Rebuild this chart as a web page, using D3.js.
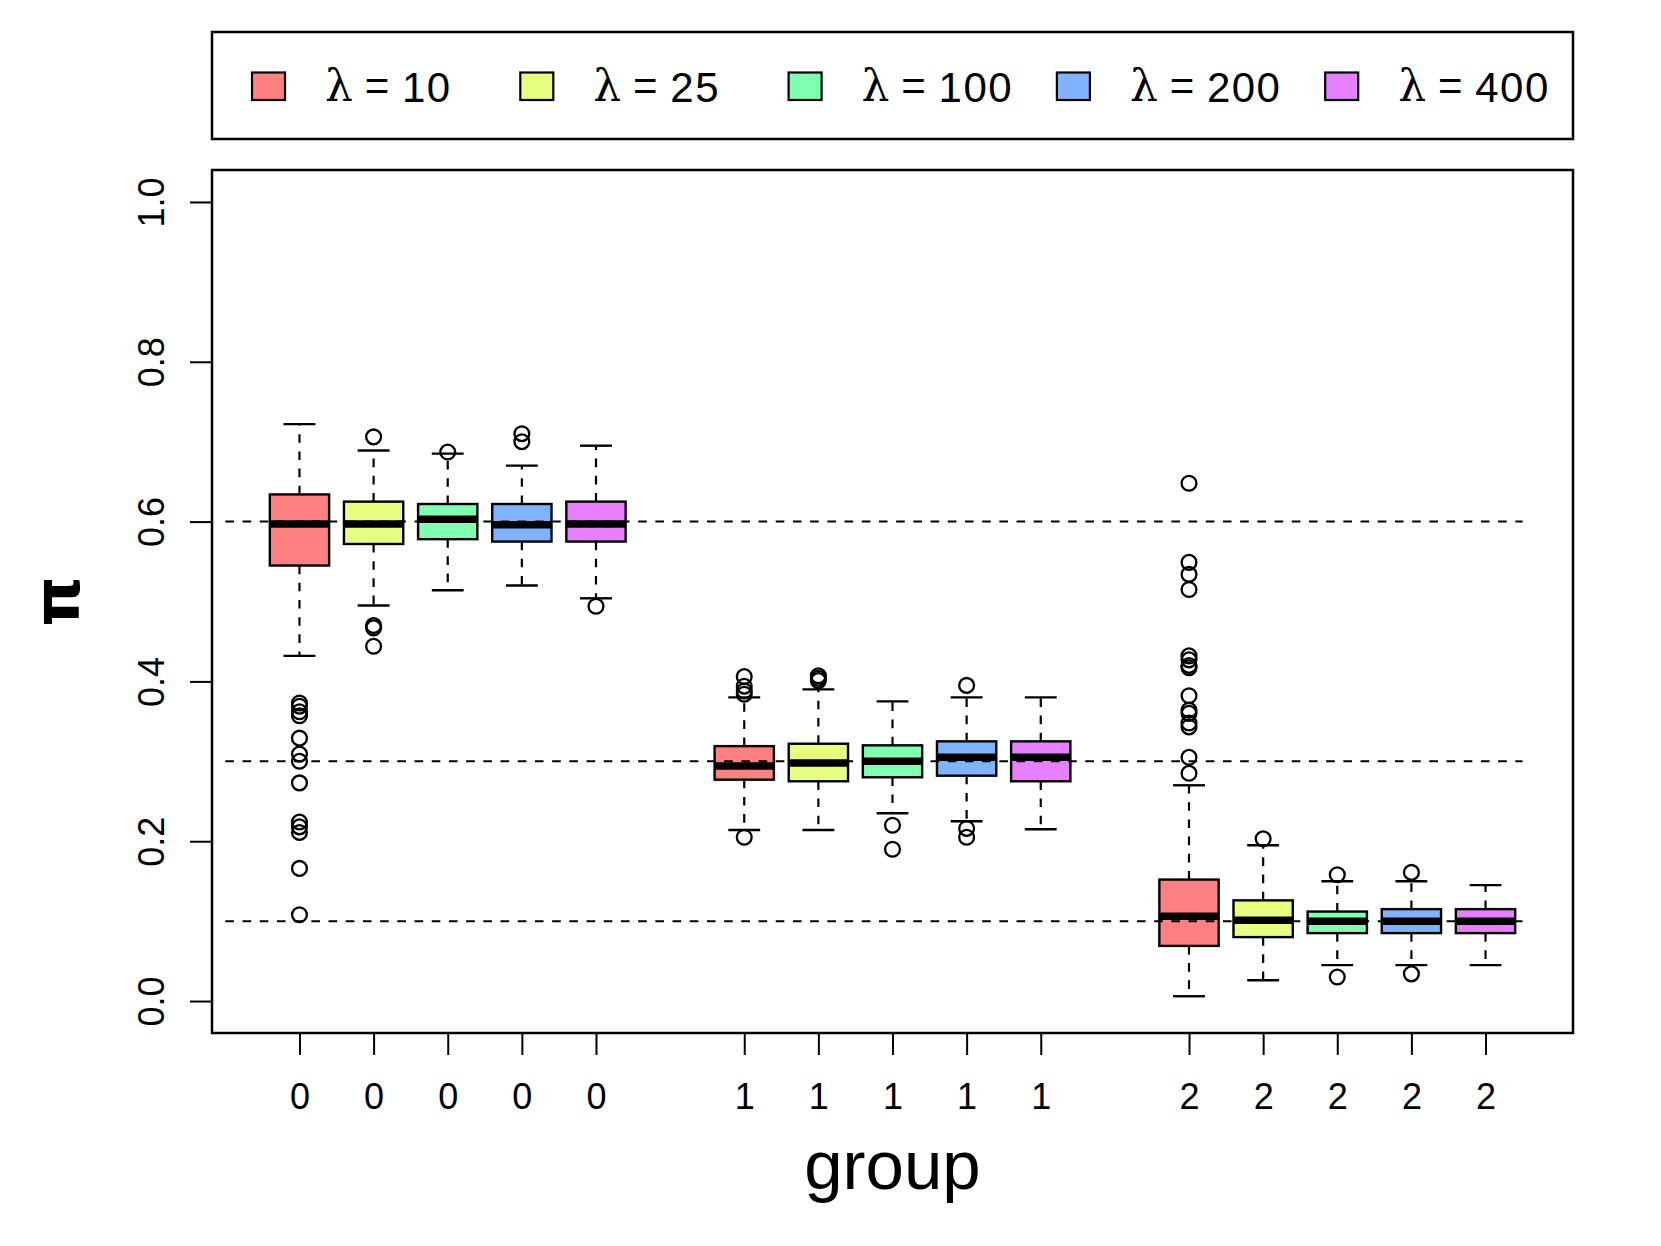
<!DOCTYPE html>
<html>
<head>
<meta charset="utf-8">
<script src="https://cdn.jsdelivr.net/npm/d3@7"></script>
<style>
  body { margin: 0; background: #fff; }
  text { font-family: "Liberation Sans", Arial, sans-serif; fill: #000; }
</style>
</head>
<body>
<div id="chart"></div>
<script>
// groups and simulation settings
var groups = ["0", "1", "2"];
var lambdas = [10, 25, 100, 200, 400];
var truePi = [0.6, 0.3, 0.1];
var yTicks = [0, 0.2, 0.4, 0.6, 0.8, 1.0];

// box statistics, one entry per box (group 0: lambda 10..400, then group 1, group 2)
var whiskerLow  = [0.432, 0.495, 0.514, 0.520, 0.504,  0.214, 0.214, 0.235, 0.225, 0.215,  0.006, 0.026, 0.045, 0.045, 0.045];
var q1          = [0.545, 0.572, 0.578, 0.575, 0.575,  0.277, 0.275, 0.280, 0.282, 0.275,  0.069, 0.080, 0.085, 0.085, 0.085];
var median      = [0.597, 0.597, 0.603, 0.596, 0.597,  0.294, 0.298, 0.300, 0.305, 0.305,  0.106, 0.101, 0.100, 0.100, 0.100];
var q3          = [0.634, 0.625, 0.622, 0.622, 0.625,  0.319, 0.322, 0.320, 0.325, 0.325,  0.152, 0.126, 0.112, 0.115, 0.115];
var whiskerHigh = [0.722, 0.689, 0.685, 0.670, 0.695,  0.380, 0.390, 0.375, 0.380, 0.380,  0.270, 0.195, 0.150, 0.150, 0.145];
var outliers = [
  [0.373, 0.369, 0.362, 0.357, 0.329, 0.309, 0.300, 0.273, 0.224, 0.218, 0.211, 0.166, 0.108],
  [0.706, 0.470, 0.467, 0.444],
  [0.687],
  [0.710, 0.700],
  [0.494],
  [0.406, 0.394, 0.388, 0.384, 0.205],
  [0.407, 0.404, 0.401],
  [0.220, 0.190],
  [0.395, 0.216, 0.205],
  [],
  [0.648, 0.549, 0.534, 0.515, 0.432, 0.427, 0.420, 0.417, 0.382, 0.364, 0.360, 0.348, 0.343, 0.305, 0.285],
  [0.203],
  [0.158, 0.030],
  [0.161, 0.034],
  []
];

var colors = ["#FF8080", "#E6FF80", "#80FFB3", "#80B3FF", "#E680FF"];

function BoxPlot() {
  var W = 1661, H = 1246;
  var plot = {left: 212, right: 1573, top: 170, bottom: 1033};

  var svg = d3.select("#chart")
    .append("svg")
    .attr("width", W)
    .attr("height", H);

  svg.append("rect").attr("width", W).attr("height", H).attr("fill", "#fff");

  // boxes sit at 1..5, 7..11, 13..17 like R's boxplot(at=...)
  var boxes = [];
  groups.forEach(function (g, gi) {
    lambdas.forEach(function (l, li) {
      var i = gi * lambdas.length + li;
      boxes.push({
        group: g, lambda: l, color: colors[li],
        pos: gi * (lambdas.length + 1) + li + 1,
        lo: whiskerLow[i], q1: q1[i], med: median[i], q3: q3[i], hi: whiskerHigh[i],
        out: outliers[i]
      });
    });
  });

  var nPos = groups.length * (lambdas.length + 1) - 1;
  var xScale = d3.scaleLinear()
    .domain([0.5 - 0.04 * nPos, nPos + 0.5 + 0.04 * nPos])
    .range([plot.left, plot.right]);

  var yScale = d3.scaleLinear()
    .domain([-0.04, 1.04])
    .range([plot.bottom, plot.top]);

  var bw = xScale(0.4) - xScale(0);
  var cap = xScale(0.215) - xScale(0);
  var dash = "8.6,8.6";

  var g = svg.selectAll("g.box")
    .data(boxes)
    .enter()
    .append("g")
    .attr("class", "box");

  // whiskers
  g.append("line")
    .attr("x1", (d) => xScale(d.pos)).attr("x2", (d) => xScale(d.pos))
    .attr("y1", (d) => yScale(d.q3)).attr("y2", (d) => yScale(d.hi))
    .attr("stroke", "#000").attr("stroke-width", 2.2).attr("stroke-dasharray", dash);
  g.append("line")
    .attr("x1", (d) => xScale(d.pos)).attr("x2", (d) => xScale(d.pos))
    .attr("y1", (d) => yScale(d.q1)).attr("y2", (d) => yScale(d.lo))
    .attr("stroke", "#000").attr("stroke-width", 2.2).attr("stroke-dasharray", dash);
  // staples
  g.append("line")
    .attr("x1", (d) => xScale(d.pos) - cap).attr("x2", (d) => xScale(d.pos) + cap)
    .attr("y1", (d) => yScale(d.hi)).attr("y2", (d) => yScale(d.hi))
    .attr("stroke", "#000").attr("stroke-width", 2.4);
  g.append("line")
    .attr("x1", (d) => xScale(d.pos) - cap).attr("x2", (d) => xScale(d.pos) + cap)
    .attr("y1", (d) => yScale(d.lo)).attr("y2", (d) => yScale(d.lo))
    .attr("stroke", "#000").attr("stroke-width", 2.4);

  // box body
  g.append("rect")
    .attr("x", (d) => xScale(d.pos) - bw)
    .attr("y", (d) => yScale(d.q3))
    .attr("width", 2 * bw)
    .attr("height", (d) => yScale(d.q1) - yScale(d.q3))
    .attr("fill", (d) => d.color)
    .attr("stroke", "#000")
    .attr("stroke-width", 2.4);

  // median
  g.append("line")
    .attr("x1", (d) => xScale(d.pos) - bw).attr("x2", (d) => xScale(d.pos) + bw)
    .attr("y1", (d) => yScale(d.med)).attr("y2", (d) => yScale(d.med))
    .attr("stroke", "#000").attr("stroke-width", 7.5);

  // outliers
  g.selectAll("circle")
    .data((d) => d.out.map((v) => ({pos: d.pos, v: v})))
    .enter()
    .append("circle")
    .attr("cx", (d) => xScale(d.pos))
    .attr("cy", (d) => yScale(d.v))
    .attr("r", 7.4)
    .attr("fill", "none")
    .attr("stroke", "#000")
    .attr("stroke-width", 2.3);

  // true values of pi
  svg.selectAll("line.truth")
    .data(truePi)
    .enter()
    .append("line")
    .attr("class", "truth")
    .attr("x1", xScale(0)).attr("x2", xScale(nPos + 0.5))
    .attr("y1", (d) => yScale(d)).attr("y2", (d) => yScale(d))
    .attr("stroke", "#000").attr("stroke-width", 2).attr("stroke-dasharray", dash);

  // frame
  svg.append("rect")
    .attr("x", plot.left).attr("y", plot.top)
    .attr("width", plot.right - plot.left).attr("height", plot.bottom - plot.top)
    .attr("fill", "none").attr("stroke", "#000").attr("stroke-width", 2.5);

  // x axis
  var xAxis = d3.axisBottom(xScale)
    .tickValues(boxes.map((d) => d.pos))
    .tickFormat((d) => boxes.find((b) => b.pos === d).group)
    .tickSize(22)
    .tickPadding(0);
  var gx = svg.append("g")
    .attr("transform", "translate(0," + plot.bottom + ")")
    .call(xAxis);
  gx.select(".domain").remove();
  gx.selectAll("line").attr("stroke-width", 2);
  gx.selectAll("text")
    .attr("font-size", 36)
    .attr("dy", null)
    .attr("y", 76);

  // y axis
  var yAxis = d3.axisLeft(yScale)
    .tickValues(yTicks)
    .tickFormat(d3.format(".1f"))
    .tickSize(22)
    .tickPadding(0);
  var gy = svg.append("g")
    .attr("transform", "translate(" + plot.left + ",0)")
    .call(yAxis);
  gy.select(".domain").remove();
  gy.selectAll("line").attr("stroke-width", 2);
  gy.selectAll("text")
    .attr("font-size", 36)
    .attr("x", null).attr("dy", null)
    .attr("text-anchor", "middle")
    .attr("transform", "translate(-48,0) rotate(-90)");

  // axis labels
  svg.append("text")
    .attr("x", (plot.left + plot.right) / 2)
    .attr("y", 1189)
    .attr("text-anchor", "middle")
    .attr("font-size", 69)
    .text("group");

  svg.append("text")
    .attr("text-anchor", "middle")
    .attr("transform", "translate(79," + (plot.top + plot.bottom) / 2 + ") rotate(-90)")
    .style("font-family", "'DejaVu Sans', sans-serif")
    .attr("font-weight", "bold")
    .attr("font-size", 64)
    .text("π");

  // legend
  var leg = {left: 212, right: 1573, top: 32, bottom: 139};
  svg.append("rect")
    .attr("x", leg.left).attr("y", leg.top)
    .attr("width", leg.right - leg.left).attr("height", leg.bottom - leg.top)
    .attr("fill", "none").attr("stroke", "#000").attr("stroke-width", 2.5);

  var item = svg.selectAll("g.legend")
    .data(lambdas)
    .enter()
    .append("g")
    .attr("class", "legend")
    .attr("transform", (d, i) => "translate(" + (252 + i * 268.3) + ",0)");

  item.append("rect")
    .attr("x", 0).attr("y", 72.5)
    .attr("width", 33).attr("height", 27.5)
    .attr("fill", (d, i) => colors[i])
    .attr("stroke", "#000").attr("stroke-width", 2.2);

  item.append("text")
    .attr("x", 73).attr("y", 101)
    .style("font-family", "'DejaVu Serif', serif")
    .attr("font-size", 44)
    .text("λ");
  item.append("text")
    .attr("x", 125).attr("y", 100)
    .attr("text-anchor", "middle")
    .attr("font-size", 42)
    .text("=");
  item.append("text")
    .attr("x", 150).attr("y", 102)
    .attr("font-size", 42)
    .attr("letter-spacing", 1.5)
    .text((d) => d);
}

window.onload = function () {
  BoxPlot();
};
</script>
</body>
</html>
